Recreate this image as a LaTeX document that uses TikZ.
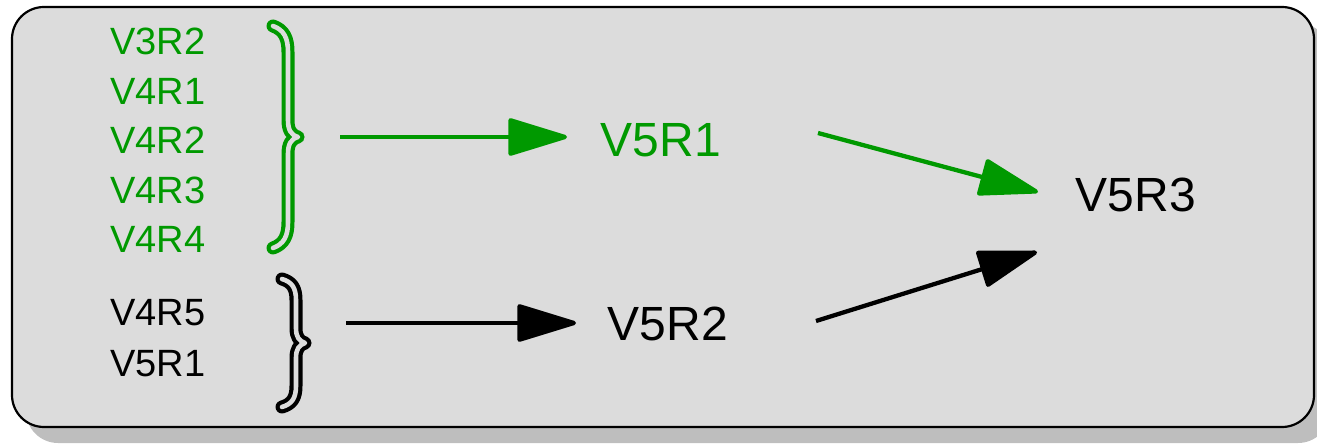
\documentclass[tikz,border=0pt]{standalone}
\usepackage{fontspec}
\setmainfont{Liberation Sans}
\usetikzlibrary{arrows.meta}
\definecolor{grn}{RGB}{0,153,0}
\definecolor{boxfill}{RGB}{220,220,220}
\definecolor{shadowc}{RGB}{190,190,190}
\tikzset{
  small/.style={font=\fontsize{38}{40}\selectfont, inner sep=0pt, anchor=base},
  big/.style={font=\fontsize{48}{50}\selectfont, inner sep=0pt, anchor=base},
  arr/.style={line width=4.3pt, -{Triangle[length=64pt, width=38pt, round]}},
  bracestyle/.style={line width=4.2pt, double=boxfill, double distance=4.6pt, line cap=round, line join=round}
}
\begin{document}
\begin{tikzpicture}[x=1pt, y=-1pt]
\useasboundingbox (0,0) rectangle (1317,446);
% shadow and box
\begin{scope}
\clip (0,0) rectangle (1317,446);
\fill[shadowc, rounded corners=32pt] (26,23) rectangle (1330,443);
\end{scope}
\draw[line width=2.2pt, fill=boxfill, rounded corners=32pt] (12,7) rectangle (1314,427);

% left lists
\node[small, text=grn] (a1) at (158,55) {V3R2};
\node[small, text=grn] (a2) at (158,104.5) {V4R1};
\node[small, text=grn] (a3) at (158,154) {V4R2};
\node[small, text=grn] (a4) at (158,203.5) {V4R3};
\node[small, text=grn] (a5) at (158,253) {V4R4};
\node[small] (b1) at (158,326) {V4R5};
\node[small] (b2) at (158,376) {V5R1};

% braces
\draw[bracestyle, draw=grn] (273,26) .. controls (284,30) and (288,38) .. (288,52)
  -- (288,120) .. controls (288,130) and (291,135) .. (298,137)
  .. controls (291,139) and (288,144) .. (288,154)
  -- (288,222) .. controls (288,236) and (284,244) .. (273,248);
\draw[bracestyle, draw=black] (282,279) .. controls (292,282) and (296,288) .. (296,300)
  -- (296,328) .. controls (296,337) and (299,341) .. (305,343)
  .. controls (299,345) and (296,349) .. (296,358)
  -- (296,386) .. controls (296,398) and (292,404) .. (282,407);

% middle and right nodes
\node[big, text=grn] (m1) at (661,157) {V5R1};
\node[big] (m2) at (668,340) {V5R2};
\node[big] (r) at (1136,212) {V5R3};

% connector ends
\coordinate (gs) at (340,137);
\coordinate (ge) at (567,137);
\coordinate (ks) at (346,323);
\coordinate (ke) at (576,323);
\coordinate (gds) at (818,133);
\coordinate (gde) at (1038,192);
\coordinate (kds) at (816,321);
\coordinate (kde) at (1037,252);

\draw[arr, grn] (gs) -- (ge);
\draw[arr, black] (ks) -- (ke);
\draw[arr, grn] (gds) -- (gde);
\draw[arr, black] (kds) -- (kde);
\end{tikzpicture}
\end{document}
